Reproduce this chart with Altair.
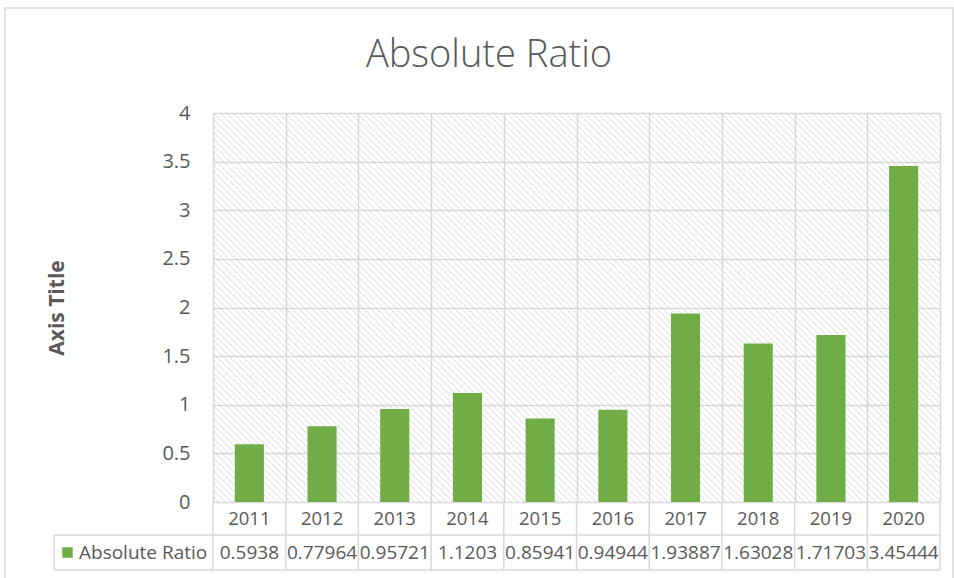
import base64
import altair as alt
import pandas as pd

# ---- data ----
years = ["2011", "2012", "2013", "2014", "2015", "2016", "2017", "2018", "2019", "2020"]
values = [0.5938, 0.77964, 0.95721, 1.1203, 0.85941, 0.94944, 1.93887, 1.63028, 1.71703, 3.45444]
y_ticks = [0, 0.5, 1, 1.5, 2, 2.5, 3, 3.5, 4]
series_name = "Absolute Ratio"
chart_title = "Absolute Ratio"
y_title = "Axis Title"

df = pd.DataFrame({"year": years, "value": values, "label": [str(v) for v in values]})
one = alt.Data(values=[{"k": 1}])

# ---- layout / style ----
W, H = 727, 389
GREEN = "#70AD47"
TXT = "#595959"
LINE = "#d9d9d9"
FONT = "Open Sans"
ROW1 = H + 16.5      # year row centre
ROW2 = H + 50.5      # value row centre
ROWB = H + 33        # line between rows
TBOT = H + 68        # table bottom
TLEFT = -159         # table left edge

hatch_svg = (
    f"<svg xmlns='http://www.w3.org/2000/svg' width='{W}' height='{H}'>"
    "<defs><pattern id='p' width='4.6' height='4.6' patternUnits='userSpaceOnUse' "
    "patternTransform='rotate(-45)'>"
    "<line x1='0' y1='0' x2='0' y2='4.6' stroke='#c2c2c2' stroke-width='1.3' stroke-dasharray='1.5 0.8'/>"
    "</pattern></defs><rect width='100%' height='100%' fill='url(#p)'/></svg>"
)
hatch_uri = "data:image/svg+xml;base64," + base64.b64encode(hatch_svg.encode()).decode()

xscale = alt.Scale(paddingInner=0, paddingOuter=0)
xaxis = alt.Axis(title=None, labels=False, ticks=False, domain=False, grid=True,
                 tickBand="extent", gridColor=LINE, gridWidth=1.5)
X = alt.X("year:N", sort=years, scale=xscale, axis=xaxis)
Y = alt.Y("value:Q", scale=alt.Scale(domain=[0, 4]),
          axis=alt.Axis(values=y_ticks, format="~g", title=y_title,
                        titleFont=FONT, titleFontSize=21, titleFontWeight="bold",
                        titleColor=TXT, titleX=-156, titleY=H / 2, titleAngle=270,
                        titleAlign="center", titleBaseline="middle",
                        labelFont=FONT, labelFontSize=20, labelColor=TXT,
                        labelPadding=23, ticks=False, tickSize=0, domain=False,
                        grid=True, gridColor=LINE, gridWidth=1.5))

hatch = alt.Chart(one).mark_image(width=W, height=H, aspect=False, align="left",
                                  baseline="top").encode(
    x=alt.value(0), y=alt.value(0), url=alt.value(hatch_uri))

bars = alt.Chart(df).mark_bar(color=GREEN, width=alt.RelativeBandSize(0.4)).encode(x=X, y=Y)

year_text = alt.Chart(df).mark_text(font=FONT, fontSize=18.5, color=TXT, baseline="middle").encode(
    x=X, y=alt.value(ROW1), text="year:N")
val_text = alt.Chart(df).mark_text(font=FONT, fontSize=19, color=TXT, baseline="middle").encode(
    x=X, y=alt.value(ROW2), text="label:N")

vlines = alt.Chart(df).mark_rule(color=LINE, strokeWidth=1.5).encode(
    x=alt.X("year:N", sort=years, scale=xscale, axis=xaxis, bandPosition=0),
    y=alt.value(H), y2=alt.value(TBOT))

def rule(x, x2, y, y2):
    return alt.Chart(one).mark_rule(color=LINE, strokeWidth=1.5).encode(
        x=alt.value(x), x2=alt.value(x2), y=alt.value(y), y2=alt.value(y2))

table_lines = [
    rule(TLEFT, W, ROWB, ROWB),
    rule(TLEFT, W, TBOT, TBOT),
    rule(TLEFT, TLEFT, ROWB, TBOT),
    rule(W, W, H, TBOT),
]

key = alt.Chart(one).mark_square(size=110, color=GREEN, opacity=1).encode(
    x=alt.value(-145.5), y=alt.value(ROW2))
key_text = alt.Chart(one).mark_text(font=FONT, fontSize=19, color=TXT, align="left",
                                    baseline="middle").encode(
    x=alt.value(-134), y=alt.value(ROW2), text=alt.value(series_name))

title = alt.Chart(one).mark_text(font=FONT, fontSize=38, fontWeight=300, color=TXT,
                                 align="center", baseline="alphabetic").encode(
    x=alt.value(276), y=alt.value(-46), text=alt.value(chart_title))

border = alt.Chart(one).mark_rect(filled=False, stroke=LINE, strokeWidth=1.5).encode(
    x=alt.value(-208), x2=alt.value(740), y=alt.value(-105), y2=alt.value(480))

chart = alt.layer(border, hatch, bars, vlines, *table_lines, year_text, val_text,
                  key, key_text, title).properties(
    width=W, height=H,
    autosize=alt.AutoSizeParams(type="none"),
    padding={"left": 213, "top": 113, "right": 14, "bottom": 76},
).configure_view(stroke=LINE, strokeWidth=1.5).configure(background="white")

chart.save("out.html", embed_options={"renderer": "svg", "actions": False})
